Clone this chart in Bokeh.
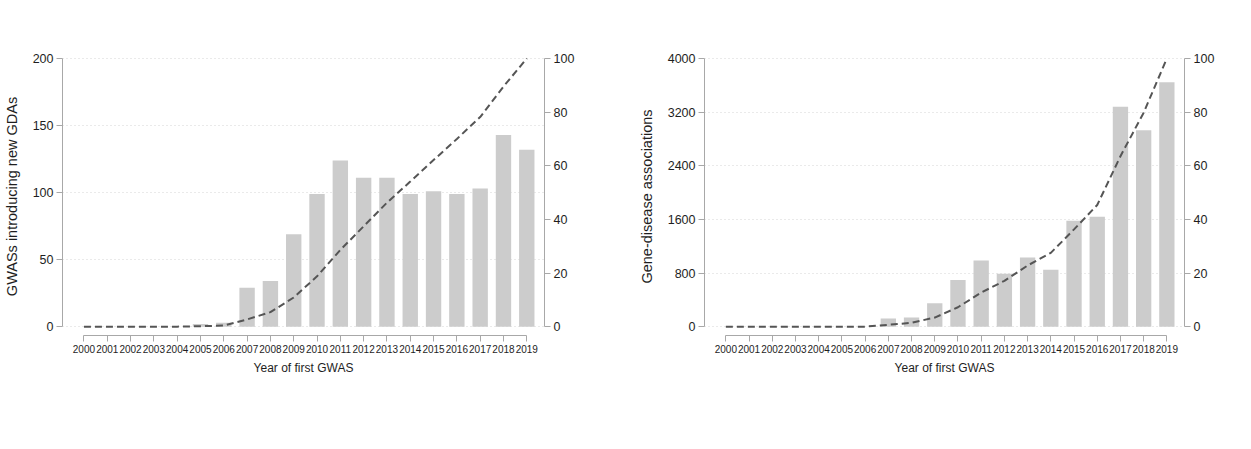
import math
from bokeh.plotting import figure
from bokeh.models import (Range1d, LinearAxis, FixedTicker, Label)
from bokeh.layouts import row
from bokeh.embed import file_html
from bokeh.resources import INLINE

# ---------------- data ----------------
years = list(range(2000, 2020))
gwas_yearly = [0, 0, 0, 0, 0, 2, 3, 29, 34, 69, 99, 124, 111, 111, 99, 101, 99, 103, 143, 132]
gwas_cum_pct = [0, 0, 0, 0, 0, 0.16, 0.40, 2.70, 5.40, 10.88, 18.75, 28.59, 37.41, 46.23,
                54.09, 62.11, 69.98, 78.16, 89.52, 100]
gda_yearly = [0, 0, 0, 0, 0, 0, 0, 123, 137, 350, 695, 985, 790, 1030, 850, 1580, 1640,
              3280, 2930, 3645]
gda_cum_pct = [0, 0, 0, 0, 0, 0, 0, 0.68, 1.44, 3.38, 7.24, 12.70, 17.08, 22.79, 27.50,
               36.26, 45.36, 63.54, 79.79, 100]
gwas_ticks = [0, 50, 100, 150, 200]
gda_ticks = [0, 800, 1600, 2400, 3200, 4000]
cum_ticks = [0, 20, 40, 60, 80, 100]

SANS = "Liberation Sans"
SERIF = "Liberation Serif"
AX_COL = "#a8a8a8"
TXT_COL = "#1e1e1e"
HEIGHT = 410
TOP = 57
BOTTOM = 75
FRAME_H = HEIGHT - TOP - BOTTOM
LO = 0.033
HI = 0.0036


def style_axis(ax, size="12.5px"):
    ax.axis_line_color = AX_COL
    ax.major_tick_line_color = AX_COL
    ax.minor_tick_line_color = None
    ax.major_tick_out = 6
    ax.major_tick_in = 0
    ax.major_label_standoff = 3
    ax.major_label_text_font = SANS
    ax.major_label_text_font_size = size
    ax.major_label_text_color = TXT_COL
    ax.axis_label_text_font = SANS
    ax.axis_label_text_font_style = "normal"
    ax.axis_label_text_color = TXT_COL


def panel(yearly, cum, yticks, ytitle, letter, ttl, width, mbl, mbr, letter_x, ital_x):
    ymax = yticks[-1]
    p = figure(width=width, height=HEIGHT, output_backend="svg", toolbar_location=None,
               x_range=Range1d(years[0] - 0.92, years[-1] + 0.76),
               y_range=Range1d(-LO * ymax, ymax * (1 + HI)),
               min_border_left=mbl, min_border_right=mbr,
               min_border_top=TOP, min_border_bottom=BOTTOM,
               outline_line_color=None)
    p.extra_y_ranges = {"cum": Range1d(-LO * 100, 100 * (1 + HI))}

    p.xgrid.visible = False
    p.ygrid.ticker = FixedTicker(ticks=yticks)
    p.ygrid.grid_line_color = "#d4d4d4"
    p.ygrid.grid_line_dash = "1 3"

    p.vbar(x=years, top=yearly, width=0.66, fill_color="#cccccc", line_color=None)
    p.line(x=years, y=cum, y_range_name="cum",
           line_color="#555555", line_width=2, line_dash="7 4")

    xa = p.xaxis[0]
    style_axis(xa, "10px")
    xa.ticker = FixedTicker(ticks=years)
    xa.bounds = (years[0], years[-1])
    xa.axis_label = "Year of first GWAS"
    xa.axis_label_text_font_size = "12px"

    ya = p.yaxis[0]
    style_axis(ya)
    ya.ticker = FixedTicker(ticks=yticks)
    ya.bounds = (0, ymax)
    ya.axis_label = ytitle
    ya.axis_label_text_font_size = "14.5px"
    ya.axis_label_standoff = 10

    ra = LinearAxis(y_range_name="cum")
    style_axis(ra)
    ra.ticker = FixedTicker(ticks=cum_ticks)
    ra.bounds = (0, 100)
    p.add_layout(ra, "right")

    fw = width - mbl - mbr
    p.add_layout(Label(x=fw + 46, y=FRAME_H * 0.51, x_units="screen", y_units="screen",
                       text="Cumulative frequency (%)", angle=math.pi / 2,
                       text_align="center", text_baseline="middle",
                       text_font=SANS, text_font_size="14.5px", text_color=TXT_COL))
    p.add_layout(Label(x=letter_x, y=FRAME_H + 48, x_units="screen", y_units="screen",
                       text=letter, text_align="right", text_baseline="middle",
                       text_font=SERIF, text_font_size="21px", text_color="#111111"))
    p.add_layout(Label(x=ital_x, y=FRAME_H + 48, x_units="screen", y_units="screen",
                       text=ttl, text_align="left", text_baseline="middle",
                       text_font=SERIF, text_font_style="italic",
                       text_font_size="21px", text_color="#111111"))
    return p


p1 = panel(gwas_yearly, gwas_cum_pct, gwas_ticks, "GWASs introducing new GDAs",
           "(a)", "Yearly GWASs introducing new gene-disease associations",
           617, 58, 73, 5, 10)
p2 = panel(gda_yearly, gda_cum_pct, gda_ticks, "Gene-disease associations",
           "(b)", "New gene-disease associations introduced by GWAS",
           618, 87, 51, 25, 30)

layout = row(p1, p2)
open("out.html", "w").write(file_html(layout, INLINE))
